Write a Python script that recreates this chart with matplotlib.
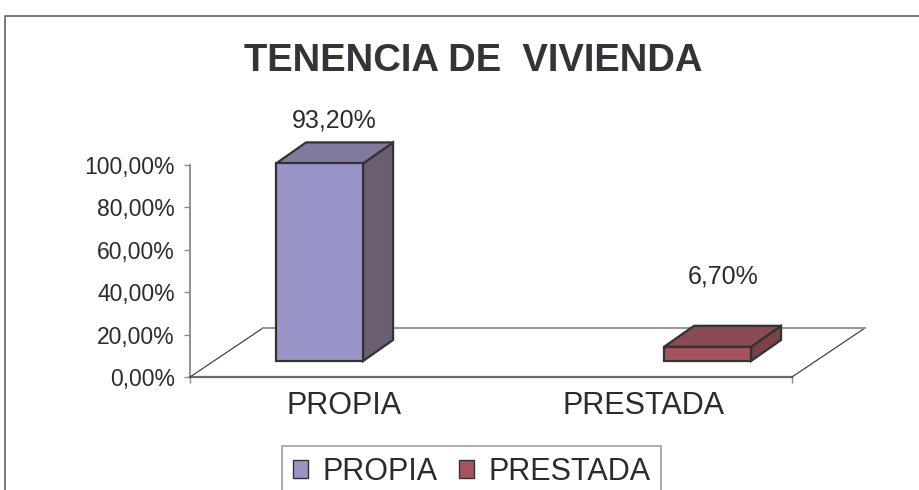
import matplotlib
matplotlib.use("Agg")
import matplotlib.pyplot as plt
from matplotlib.patches import Polygon, Patch
from matplotlib.lines import Line2D
from matplotlib.ticker import FuncFormatter
from matplotlib.transforms import IdentityTransform, ScaledTranslation

plt.rcParams['font.family'] = ['Liberation Sans', 'DejaVu Sans']

# ---- data ----
categories = ["PROPIA", "PRESTADA"]
values = [93.2, 6.7]
value_labels = ["93,20%", "6,70%"]
yticks = [0, 20, 40, 60, 80, 100]
title = "TENENCIA DE  VIVIENDA"

# ---- styles / layout ----
front_cols = ["#9a95c8", "#a5535f"]
top_cols = ["#827a9e", "#8a4a56"]
side_cols = ["#6b5d72", "#7a4149"]
edge_col = "#333333"
text_col = "#2b2b2b"

W, H = 920, 490
fig = plt.figure(figsize=(W / 100, H / 100), dpi=100)
fig.patch.set_facecolor("white")

ax_l, ax_r, ax_t, ax_b = 190, 792, 165, 377
ax = fig.add_axes([ax_l / W, (H - ax_b) / H, (ax_r - ax_l) / W, (ax_b - ax_t) / H])
ax.set_xlim(0, 2)
ax.set_ylim(0, 100)
ax.patch.set_alpha(0)
for s in ["top", "right"]:
    ax.spines[s].set_visible(False)
ax.spines["left"].set_color("#8a8a8a")
ax.spines["left"].set_linewidth(1.3)
ax.spines["bottom"].set_color("#6a6a6a")
ax.spines["bottom"].set_linewidth(1.6)
ax.set_yticks(yticks)
ax.yaxis.set_major_formatter(FuncFormatter(lambda v, p: f"{v:.2f}%".replace(".", ",")))
ax.tick_params(axis="y", length=4.3, width=1.0, color="#8a8a8a", pad=6.5,
               labelsize=16.5, labelcolor=text_col)
ax.set_xticks([0, 2])
ax.set_xticklabels([])
ax.tick_params(axis="x", length=4.3, width=1.0, color="#8a8a8a")

# floor parallelogram (display coords)
fdx, fdy = 73, 49
def disp(x, y):
    return ax.transData.transform((x, y))

fl = disp(0, 0)
fr = disp(2, 0)
bl = (fl[0] + fdx, fl[1] + fdy)
br = (fr[0] + fdx, fr[1] + fdy)
ident = IdentityTransform()
fig.add_artist(Line2D([fl[0], bl[0]], [fl[1], bl[1]], color="#444444", lw=0.9, transform=ident, zorder=1))
fig.add_artist(Line2D([fr[0], br[0]], [fr[1], br[1]], color="#444444", lw=0.9, transform=ident, zorder=1))
fig.add_artist(Line2D([bl[0], br[0]], [bl[1], br[1]], color="#999999", lw=1.5, transform=ident, zorder=1))

# bars (3D look)
bar_left = [0.286, 1.575]
bar_w = 0.289
front_off = (0, 16)
depth = (30, 21)
label_off = [(15, 43), (16, 70)]
for i, v in enumerate(values):
    x0, y0 = disp(bar_left[i], 0)
    x1, y1 = disp(bar_left[i] + bar_w, v)
    x0 += front_off[0]; x1 += front_off[0]
    y0 += front_off[1]; y1 += front_off[1]
    dx, dy = depth
    front = [(x0, y0), (x1, y0), (x1, y1), (x0, y1)]
    top = [(x0, y1), (x1, y1), (x1 + dx, y1 + dy), (x0 + dx, y1 + dy)]
    side = [(x1, y0), (x1 + dx, y0 + dy), (x1 + dx, y1 + dy), (x1, y1)]
    for pts, c in [(side, side_cols[i]), (top, top_cols[i]), (front, front_cols[i])]:
        fig.add_artist(Polygon(pts, closed=True, facecolor=c, edgecolor=edge_col,
                               lw=1.6, joinstyle="miter", transform=ident, zorder=3))
    cx = (x0 + x1) / 2 + label_off[i][0]
    cy = y1 + label_off[i][1]
    fig.text(cx, cy, value_labels[i], transform=ident, ha="center", va="center",
             fontsize=18, color=text_col, zorder=4)

# category labels
cat_pos = [0.512, 1.508]
off = ScaledTranslation(0, -37 / 100, fig.dpi_scale_trans)
for i, c in enumerate(categories):
    ax.text(cat_pos[i], 0, c, transform=ax.get_xaxis_transform() + off,
            ha="center", va="baseline", fontsize=22, color=text_col)

# title
fig.text(473 / W, 1 - 61 / H, title, ha="center", va="center", fontsize=27.5,
         fontweight="bold", color="#333338")

# outer frame
fig.add_artist(Line2D([5 / W, 5 / W, 1.0], [0, 1 - 16 / H, 1 - 16 / H], color="#666666",
                      lw=1.2, transform=fig.transFigure))

# legend
handles = [Patch(facecolor=front_cols[i], edgecolor=edge_col, lw=1.0) for i in range(2)]
leg = fig.legend(handles, categories, loc="upper left", bbox_to_anchor=(282 / W, 1 - 446 / H),
                 bbox_transform=fig.transFigure, ncol=2, frameon=True, fancybox=False,
                 fontsize=22, handlelength=0.5, handleheight=0.5, handletextpad=0.45,
                 columnspacing=0.72, borderpad=0.36, borderaxespad=0)
leg.get_frame().set_edgecolor("#888888")
leg.get_frame().set_linewidth(1.2)
for t in leg.get_texts():
    t.set_color(text_col)

fig.savefig("out.png", dpi=100)
